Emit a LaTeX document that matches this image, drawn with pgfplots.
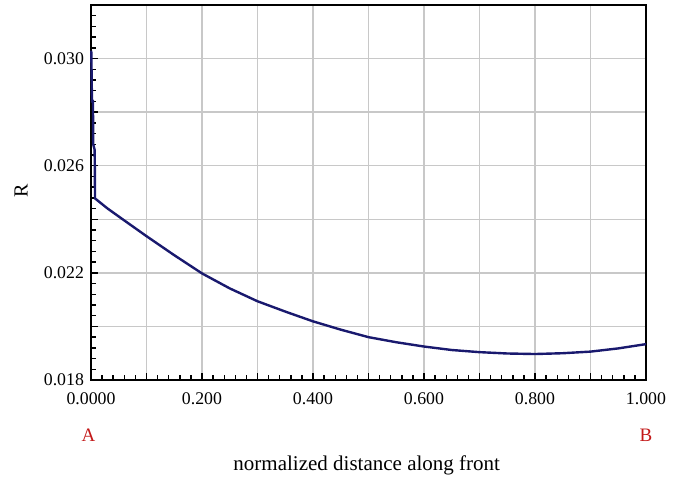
\documentclass[border=0pt]{standalone}
\usepackage{pgfplots}
\pgfplotsset{compat=1.18}
\usepackage{fontspec}
\setmainfont{Liberation Serif}
\definecolor{curve}{RGB}{25,25,110}
\definecolor{gridc}{RGB}{200,200,200}
\definecolor{lab}{RGB}{195,25,25}
\begin{document}
\begin{tikzpicture}
\path[use as bounding box] (-45.5pt,-49pt) rectangle (296.5pt,190pt);
\begin{axis}[
  at={(0,0)}, anchor=south west,
  scale only axis, width=277.5pt, height=187.5pt,
  xmin=0, xmax=1, ymin=0.018, ymax=0.032,
  xtick={0,0.1,0.2,0.3,0.4,0.5,0.6,0.7,0.8,0.9,1},
  xticklabels={0.0000,,0.200,,0.400,,0.600,,0.800,,1.000},
  ytick={0.018,0.020,0.022,0.024,0.026,0.028,0.030,0.032},
  yticklabels={0.018,,0.022,,0.026,,0.030,},
  scaled y ticks=false, scaled x ticks=false,
  minor x tick num=4, minor y tick num=4,
  tick pos=left, tick align=inside,
  major tick length=3.5pt, minor tick length=2.5pt,
  grid=major, major grid style={gridc, line width=0.7pt},
  axis line style={line width=0.9pt},
  every tick/.style={black, line width=0.7pt},
  tick label style={font=\fontsize{8.9}{10}\selectfont},
  xticklabel style={yshift=-3pt},
  clip=false,
]
\addplot[curve, line width=1.2pt] table {
x y
0.0005 0.0303
0.0010 0.0296
0.0015 0.0288
0.0020 0.0284
0.0035 0.0284
0.0038 0.0276
0.0040 0.0268
0.0065 0.0266
0.0070 0.0258
0.0072 0.02478
0.030 0.02440
0.055 0.02403
0.100 0.02337
0.150 0.02266
0.200 0.02198
0.250 0.02142
0.300 0.02094
0.352 0.02054
0.400 0.02019
0.450 0.01988
0.500 0.01960
0.550 0.01941
0.600 0.01925
0.650 0.01912
0.700 0.01904
0.750 0.01899
0.800 0.01897
0.850 0.01900
0.900 0.01906
0.950 0.01918
1.000 0.01934
};
\node[lab, font=\fontsize{9.5}{11}\selectfont, xshift=-1.25pt, yshift=-27.5pt] at (axis cs:0,0.018) {A};
\node[lab, font=\fontsize{9.5}{11}\selectfont, yshift=-27.5pt] at (axis cs:1,0.018) {B};
\node[font=\fontsize{10.5}{12}\selectfont, xshift=-0.9pt, yshift=-42.5pt] at (axis cs:0.5,0.018) {normalized distance along front};
\node[font=\fontsize{10}{11}\selectfont, rotate=90, xshift=0.75pt, yshift=35pt] at (axis cs:0,0.025) {R};
\end{axis}
\end{tikzpicture}
\end{document}
